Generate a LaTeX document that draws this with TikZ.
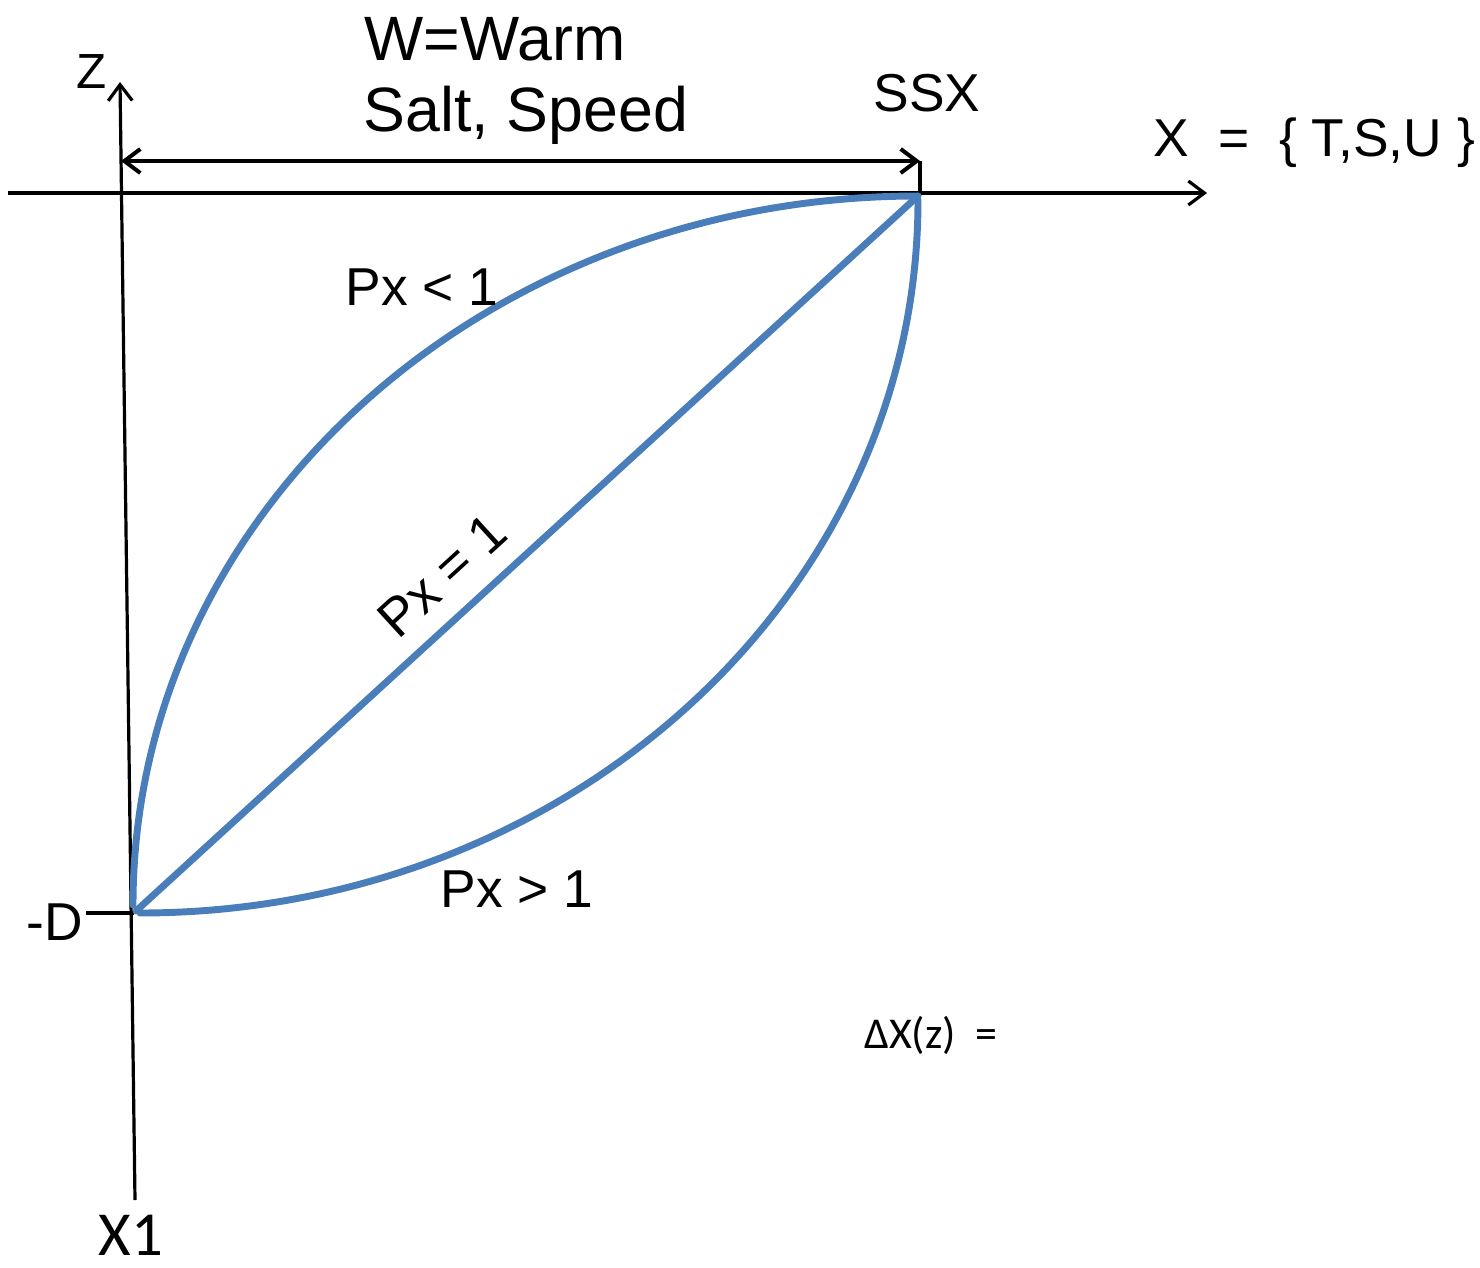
\documentclass[tikz,border=0pt]{standalone}
\usepackage{fontspec}
\setmainfont{Liberation Sans}
\newfontfamily\calib{Carlito}
\usetikzlibrary{arrows.meta}

\tikzset{every picture/.style={line width=0.75pt}}
\tikzset{
  axisline/.style={line width=2.4pt, -{Straight Barb[length=12pt,width=18pt,line width=2.4pt]}},
  profile/.style={line width=5.2pt, color={rgb, 255:red, 74; green, 126; blue, 187}, line cap=round},
  lbl/.style={inner sep=0pt, font=\fontsize{40}{44}\selectfont},
}

\begin{document}
\begin{tikzpicture}[x=0.75pt,y=0.75pt,yscale=-1,xscale=1]
\useasboundingbox (0,0) rectangle (1480,1267);

% axes
\coordinate (zbot) at (135,1200);
\coordinate (ztop) at (120,82);
\coordinate (xleft) at (8,193);
\coordinate (xright) at (1207,193);
\draw [axisline] (zbot) -- (ztop);
\draw [axisline] (xleft) -- (xright);

% width of the warm layer
\coordinate (wleft) at (121,161);
\coordinate (wright) at (920,161);
\coordinate (wfoot) at (920,193);
\draw [line width=3pt, {Straight Barb[length=12pt,width=18pt,line width=3pt]}-{Straight Barb[length=12pt,width=18pt,line width=3pt]}] (wleft) -- (wright);
\draw [line width=2.4pt] (wright) -- (wfoot);

% depth tick
\coordinate (dleft) at (86,913);
\coordinate (dright) at (134,913);
\draw [line width=2.4pt] (dleft) -- (dright);

% profiles
\coordinate (top) at (918,196);
\coordinate (bot) at (136,911);
\draw [profile] (top) .. controls (484,196) and (133,513) .. (133,905);
\draw [profile] (top) -- (bot);
\draw [profile] (918,200) .. controls (918,594) and (570,913) .. (140,913);

% labels
\node (zlbl) at (92,72) [lbl, font=\fontsize{37}{40}\selectfont] {Z};
\node (warm) at (495,39) [lbl, font=\fontsize{47}{50}\selectfont] {W=Warm};
\node (salt) at (526,115) [lbl, font=\fontsize{47}{50}\selectfont] {Salt, Speed};
\node (ssx) at (927,93) [lbl, font=\fontsize{40}{44}\selectfont] {SSX};
\node (xset) at (1314,143) [lbl, font=\fontsize{40}{44}\selectfont] {X\ \ =\ \ \{ T,S,U \}};
\node (pless) at (422,287) [lbl] {Px < 1};
\node (pequal) at (442,575) [lbl, rotate=42.4] {Px = 1};
\node (pmore) at (517,889) [lbl] {Px > 1};
\node (dlbl) at (55,922) [lbl, font=\fontsize{40}{44}\selectfont] {-D};
\node (xone) at (131,1235) [lbl, font=\calib\fontsize{47}{50}\selectfont] {X1};
\node (dx) at (931,1035) [lbl, font=\calib\fontsize{33}{36}\selectfont] {ΔX(z)\ \ =};

\end{tikzpicture}
\end{document}
